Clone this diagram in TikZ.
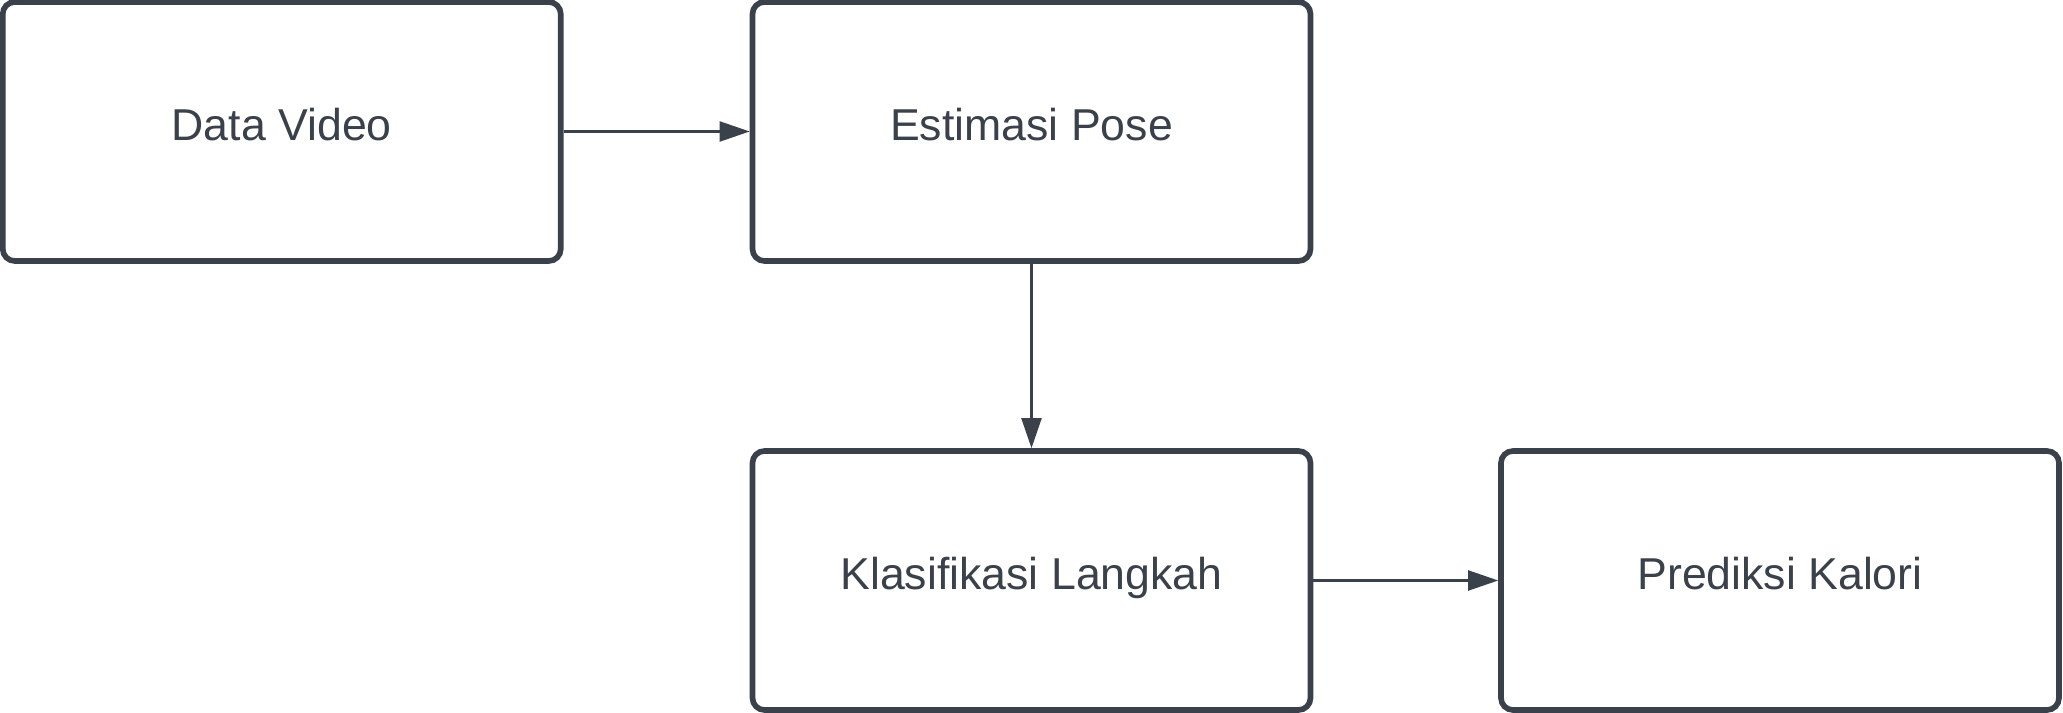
\documentclass[tikz,border=0pt]{standalone}
\usepackage{fontspec}
\setmainfont[Ligatures=NoCommon]{Liberation Sans}
\usepackage{tikz}
\usetikzlibrary{positioning, arrows.meta}
\definecolor{sInk}{HTML}{3A414A}
\tikzset{
  stage/.style={draw=sInk, line width=1.6pt, fill=white, text=sInk, rounded corners=1.2mm,
    minimum width=5.58cm, minimum height=2.59cm, inner sep=2pt,
    text height=0.4cm, text depth=0.22cm,
    font=\fontsize{12.7}{15}\selectfont, align=center},
  flowarrow/.style={-{Triangle[length=3mm, width=2mm]}, line width=0.6pt, sInk},
}

\begin{document}
\begin{tikzpicture}
  \useasboundingbox (0,0) rectangle (20.63,7.13);
  \node[stage] (video) at (2.8175,5.815) {Data Video};
  \node[stage] (pose) at (10.315,5.815) {Estimasi Pose};
  \node[stage] (langkah) at (10.315,1.325) {Klasifikasi Langkah};
  \node[stage] (kalori) at (17.80,1.325) {Prediksi Kalori};
  \draw[flowarrow] (video) -- (pose);
  \draw[flowarrow] (pose) -- (langkah);
  \draw[flowarrow] (langkah) -- (kalori);
\end{tikzpicture}
\end{document}
